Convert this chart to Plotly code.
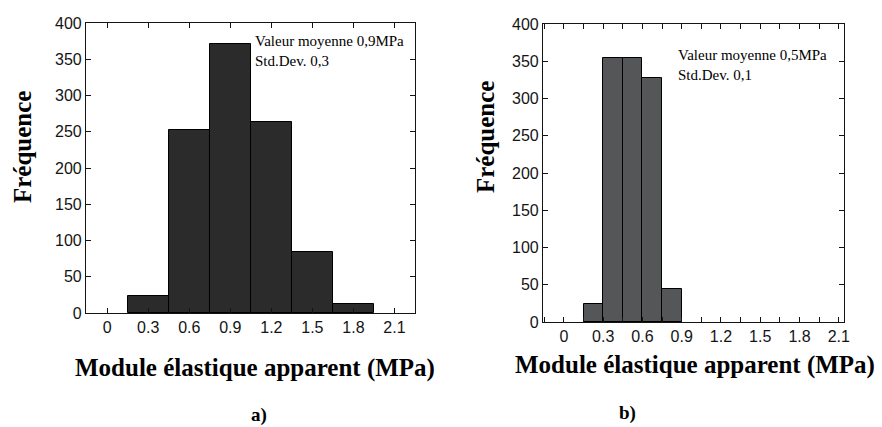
import plotly.graph_objects as go

# histogram a) : bins of 0.3 MPa
bins_a = [0.3, 0.6, 0.9, 1.2, 1.5, 1.8]
counts_a = [23, 252, 371, 263, 84, 12]

# histogram b) : bins of 0.15 MPa
bins_b = [0.225, 0.375, 0.525, 0.675, 0.825]
counts_b = [24, 354, 354, 328, 44]

x_ticks = [0, 0.3, 0.6, 0.9, 1.2, 1.5, 1.8, 2.1]
x_ticklabels = ["0", "0.3", "0.6", "0.9", "1.2", "1.5", "1.8", "2.1"]
y_ticks = [0, 50, 100, 150, 200, 250, 300, 350, 400]

W, H = 882, 427
serif = "Liberation Serif, Times New Roman, serif"
sans = "Liberation Sans, Arial, sans-serif"
ink = "rgb(20,20,20)"

fig = go.Figure()

fig.add_trace(go.Bar(x=bins_a, y=counts_a, width=0.3,
                     marker=dict(color="#2b2b2b", line=dict(color="black", width=1)),
                     xaxis="x", yaxis="y", showlegend=False))
fig.add_trace(go.Bar(x=bins_b, y=counts_b, width=0.15,
                     marker=dict(color="#555657", line=dict(color="black", width=1)),
                     xaxis="x2", yaxis="y2", showlegend=False))

common_x = dict(tickmode="array", tickvals=x_ticks, ticktext=x_ticklabels,
                ticks="inside", ticklen=5, tickcolor=ink, mirror="ticks",
                showline=True, linecolor=ink, linewidth=1.2, showgrid=False,
                zeroline=False, automargin=False,
                tickfont=dict(family=sans, size=16, color=ink))
common_y = dict(tickmode="array", tickvals=y_ticks, range=[0, 400],
                ticks="inside", ticklen=5, tickcolor=ink, mirror="ticks",
                showline=True, linecolor=ink, linewidth=1.2, showgrid=False,
                zeroline=False, automargin=False,
                tickfont=dict(family=sans, size=16, color=ink))

fig.update_layout(
    width=W, height=H,
    margin=dict(l=0, r=0, t=0, b=0, autoexpand=False),
    paper_bgcolor="white", plot_bgcolor="white",
    bargap=0,
    xaxis=dict(common_x, domain=[86 / W, 415 / W], range=[-0.155, 2.25], anchor="y"),
    yaxis=dict(common_y, domain=[1 - 313 / H, 1 - 23 / H], anchor="x"),
    xaxis2=dict(common_x, domain=[543 / W, 844 / W], range=[-0.16, 2.14], anchor="y2",
                minor=dict(dtick=0.15, tick0=0, ticks="inside", ticklen=5, tickcolor=ink)),
    yaxis2=dict(common_y, domain=[1 - 322 / H, 1 - 24 / H], anchor="x2"),
)

title_font = dict(family=serif, size=25, color="black")
note_font = dict(family=serif, size=15, color="black")


def label(text, x, y, font, **kw):
    fig.add_annotation(text=text, x=x / W, y=1 - y / H, xref="paper", yref="paper",
                       showarrow=False, font=font, **kw)


# y-axis titles
label("<b>Fréquence</b>", 23, 147, title_font, textangle=-90, xanchor="center", yanchor="middle")
label("<b>Fréquence</b>", 485, 137, title_font, textangle=-90, xanchor="center", yanchor="middle")

# x-axis titles
label("<b>Module élastique apparent (MPa)</b>", 255, 368, title_font, xanchor="center", yanchor="middle")
label("<b>Module élastique apparent (MPa)</b>", 695, 365, title_font, xanchor="center", yanchor="middle")

# panel labels
label("<b>a)</b>", 259, 415, dict(family=serif, size=19, color="black"), xanchor="center", yanchor="middle")
label("<b>b)</b>", 627, 413, dict(family=serif, size=19, color="black"), xanchor="center", yanchor="middle")

# statistics notes
label("Valeur moyenne 0,9MPa<br>Std.Dev. 0,3", 251, 29, note_font, xanchor="left", yanchor="top",
      align="left", bgcolor="white", borderpad=3)
label("Valeur moyenne 0,5MPa<br>Std.Dev. 0,1", 676, 45, note_font, xanchor="left", yanchor="top",
      align="left")

fig.write_html("out.html", config={"displayModeBar": False},
               post_script="document.body.style.margin='0';")
